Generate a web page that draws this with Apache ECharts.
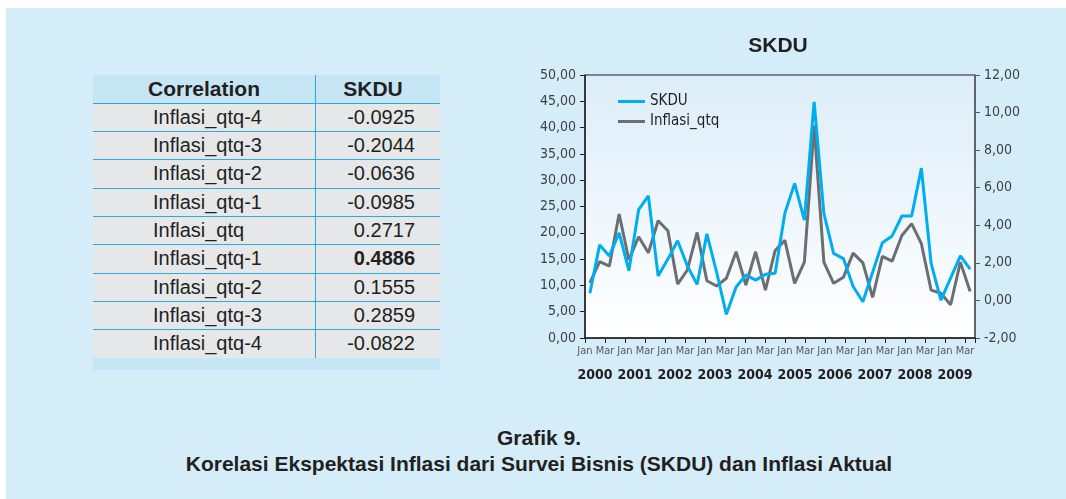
<!DOCTYPE html>
<html>
<head>
<meta charset="utf-8">
<script src="https://cdn.jsdelivr.net/npm/echarts@6/dist/echarts.min.js"></script>
<style>
  html, body { margin: 0; padding: 0; background: #fff; }
  #page { position: relative; width: 1066px; height: 499px; overflow: hidden; }
  #panel { position: absolute; left: 6px; top: 8px; right: 0; bottom: 0; background: #d5ecf9; }
  #chart { position: absolute; left: 0; top: 0; width: 1066px; height: 499px; }
  #tbl { position: absolute; left: 93px; top: 75px; width: 347px; font-family: 'Liberation Sans', Arial, sans-serif; color: #231f20; }
  .row { display: flex; height: 28.33px; box-sizing: border-box; background: #e6e7e8; font-size: 20px; line-height: 27.33px; }
  .row + .row { border-top: 1px solid #29abe2; }
  .row.hdr { background: #c6e6f6; font-weight: bold; font-size: 21px; height: 27.7px; line-height: 27.7px; }
  .c1 { width: 223px; box-sizing: border-box; border-right: 1px solid #29abe2; padding-left: 60px; white-space: nowrap; }
  .c2 { width: 124px; box-sizing: border-box; text-align: right; padding-right: 25px; white-space: nowrap; }
  .hdr .c1 { text-align: center; padding-left: 0; padding-right: 0; }
  .hdr .c2 { text-align: center; padding-right: 10px; }
  .foot { height: 12px; background: #c6e6f6; }
  #caption { position: absolute; left: 0; width: 1078px; top: 425px; text-align: center; font-family: 'Liberation Sans', Arial, sans-serif; font-weight: bold; font-size: 21px; line-height: 26px; color: #231f20; }
</style>
</head>
<body>
<div id="page">
  <div id="panel"></div>
  <div id="tbl"></div>
  <div id="caption">Grafik 9.<br>Korelasi Ekspektasi Inflasi dari Survei Bisnis (SKDU) dan Inflasi Aktual</div>
  <div id="chart"></div>
</div>
<script>
// correlation table
const lagLabels = ['Inflasi_qtq-4', 'Inflasi_qtq-3', 'Inflasi_qtq-2', 'Inflasi_qtq-1', 'Inflasi_qtq',
  'Inflasi_qtq-1', 'Inflasi_qtq-2', 'Inflasi_qtq-3', 'Inflasi_qtq-4']
const corrValues = [-0.0925, -0.2044, -0.0636, -0.0985, 0.2717, 0.4886, 0.1555, 0.2859, -0.0822]

// line chart, quarterly 2000-2009
const years = ['2000', '2001', '2002', '2003', '2004', '2005', '2006', '2007', '2008', '2009']
const monthTicks = ['Jan', 'Mar']
const skdu = [8.5, 17.7, 15.6, 20.0, 12.8, 24.4, 27.0, 11.8, 15.0, 18.5,
  13.7, 10.2, 19.8, 12.5, 4.5, 9.7, 12.0, 11.0, 12.1, 12.3,
  23.7, 29.4, 22.4, 44.9, 23.7, 16.1, 15.1, 9.8, 6.9, 12.5,
  18.1, 19.4, 23.2, 23.2, 32.3, 14.2, 7.2, 11.4, 15.6, 13.1]
const inflasiQtq = [0.94, 2.06, 1.83, 4.6, 2.15, 3.39, 2.54, 4.24, 3.71, 0.87,
  1.62, 3.62, 1.05, 0.77, 1.18, 2.59, 0.82, 2.59, 0.55, 2.65,
  3.2, 0.91, 2.04, 9.3, 2.04, 0.91, 1.23, 2.52, 2.0, 0.16,
  2.34, 2.09, 3.46, 4.09, 3.02, 0.55, 0.38, -0.23, 2.04, 0.48]

const quarters = years.flatMap((y) => ['Q1', 'Q2', 'Q3', 'Q4'].map((q) => y + q))
const xTickLabels = years.flatMap(() => monthTicks)

// build table
const best = Math.max(...corrValues)
let html = '<div class="row hdr"><div class="c1">Correlation</div><div class="c2">SKDU</div></div>'
lagLabels.forEach((lab, i) => {
  const v = corrValues[i].toFixed(4)
  const cell = corrValues[i] === best ? '<b>' + v + '</b>' : v
  html += '<div class="row"><div class="c1">' + lab + '</div><div class="c2">' + cell + '</div></div>'
})
html += '<div class="foot"></div>'
document.getElementById('tbl').innerHTML = html

const narrow = "'Liberation Sans Narrow', 'DejaVu Sans Condensed', 'Liberation Sans', sans-serif"
const ink = '#231f20'
const comma = (v) => v.toFixed(2).replace('.', ',')

const chart = echarts.init(document.getElementById('chart'))
chart.setOption({
  animation: false,
  backgroundColor: 'transparent',
  title: {
    text: 'SKDU',
    left: 778,
    top: 36,
    padding: 0,
    textAlign: 'center',
    textStyle: { fontFamily: "'Liberation Sans', Arial, sans-serif", fontWeight: 'bold', fontSize: 21, color: ink },
  },
  legend: {
    orient: 'vertical',
    left: 613,
    top: 89,
    itemWidth: 27,
    itemHeight: 3,
    itemGap: 5,
    icon: 'rect',
    data: ['SKDU', 'Inflasi_qtq'],
    textStyle: { fontFamily: narrow, fontSize: 15, color: ink },
  },
  grid: {
    left: 585,
    right: 91,
    top: 75,
    bottom: 161,
    show: true,
    borderColor: ink,
    borderWidth: 1,
    backgroundColor: new echarts.graphic.LinearGradient(0, 0, 0, 1, [
      { offset: 0, color: '#dcedf9' },
      { offset: 1, color: '#ffffff' },
    ]),
  },
  xAxis: [
    { type: 'category', data: quarters, boundaryGap: true, show: false, axisLine: { onZero: false } },
    {
      type: 'value', min: 0, max: 19.5, interval: 1, position: 'bottom',
      axisLine: { show: true, onZero: false, lineStyle: { color: ink, width: 1.5 } },
      axisTick: { show: true, length: 5, lineStyle: { color: ink } },
      splitLine: { show: false },
      axisLabel: {
        margin: 8, fontFamily: narrow, fontSize: 11, color: '#58595b',
        formatter: (v) => (Number.isInteger(v) && xTickLabels[v]) || '',
      },
    },
    {
      type: 'value', min: 0, max: 19.5, interval: 2, position: 'bottom',
      axisLine: { show: false, onZero: false }, axisTick: { show: false }, splitLine: { show: false },
      axisLabel: {
        margin: 30, padding: [0, 0, 0, 20], fontFamily: narrow, fontSize: 14, fontWeight: 'bold', color: ink,
        formatter: (v) => (Number.isInteger(v) && v % 2 === 0 && years[v / 2]) || '',
      },
    },
  ],
  yAxis: [
    {
      type: 'value', min: 0, max: 50, interval: 5, position: 'left',
      axisLine: { show: true, onZero: false, lineStyle: { color: ink, width: 1.5 } },
      axisTick: { show: true, length: 5, lineStyle: { color: ink } },
      splitLine: { show: false },
      axisLabel: { margin: 9, fontFamily: narrow, fontSize: 14, color: '#414042', formatter: comma },
    },
    {
      type: 'value', min: -2, max: 12, interval: 2, position: 'right',
      axisLine: { show: true, onZero: false, lineStyle: { color: '#58595b', width: 1.5 } },
      axisTick: { show: true, length: 5, lineStyle: { color: '#58595b' } },
      splitLine: { show: false },
      axisLabel: { margin: 9, fontFamily: narrow, fontSize: 14, color: '#414042', formatter: comma },
    },
  ],
  series: [
    {
      name: 'Inflasi_qtq', type: 'line', xAxisIndex: 0, yAxisIndex: 1, data: inflasiQtq,
      showSymbol: false, lineStyle: { color: '#6d6e71', width: 3 }, itemStyle: { color: '#6d6e71' },
    },
    {
      name: 'SKDU', type: 'line', xAxisIndex: 0, yAxisIndex: 0, data: skdu,
      showSymbol: false, lineStyle: { color: '#00aeef', width: 3 }, itemStyle: { color: '#00aeef' },
    },
  ],
})
</script>
</body>
</html>
